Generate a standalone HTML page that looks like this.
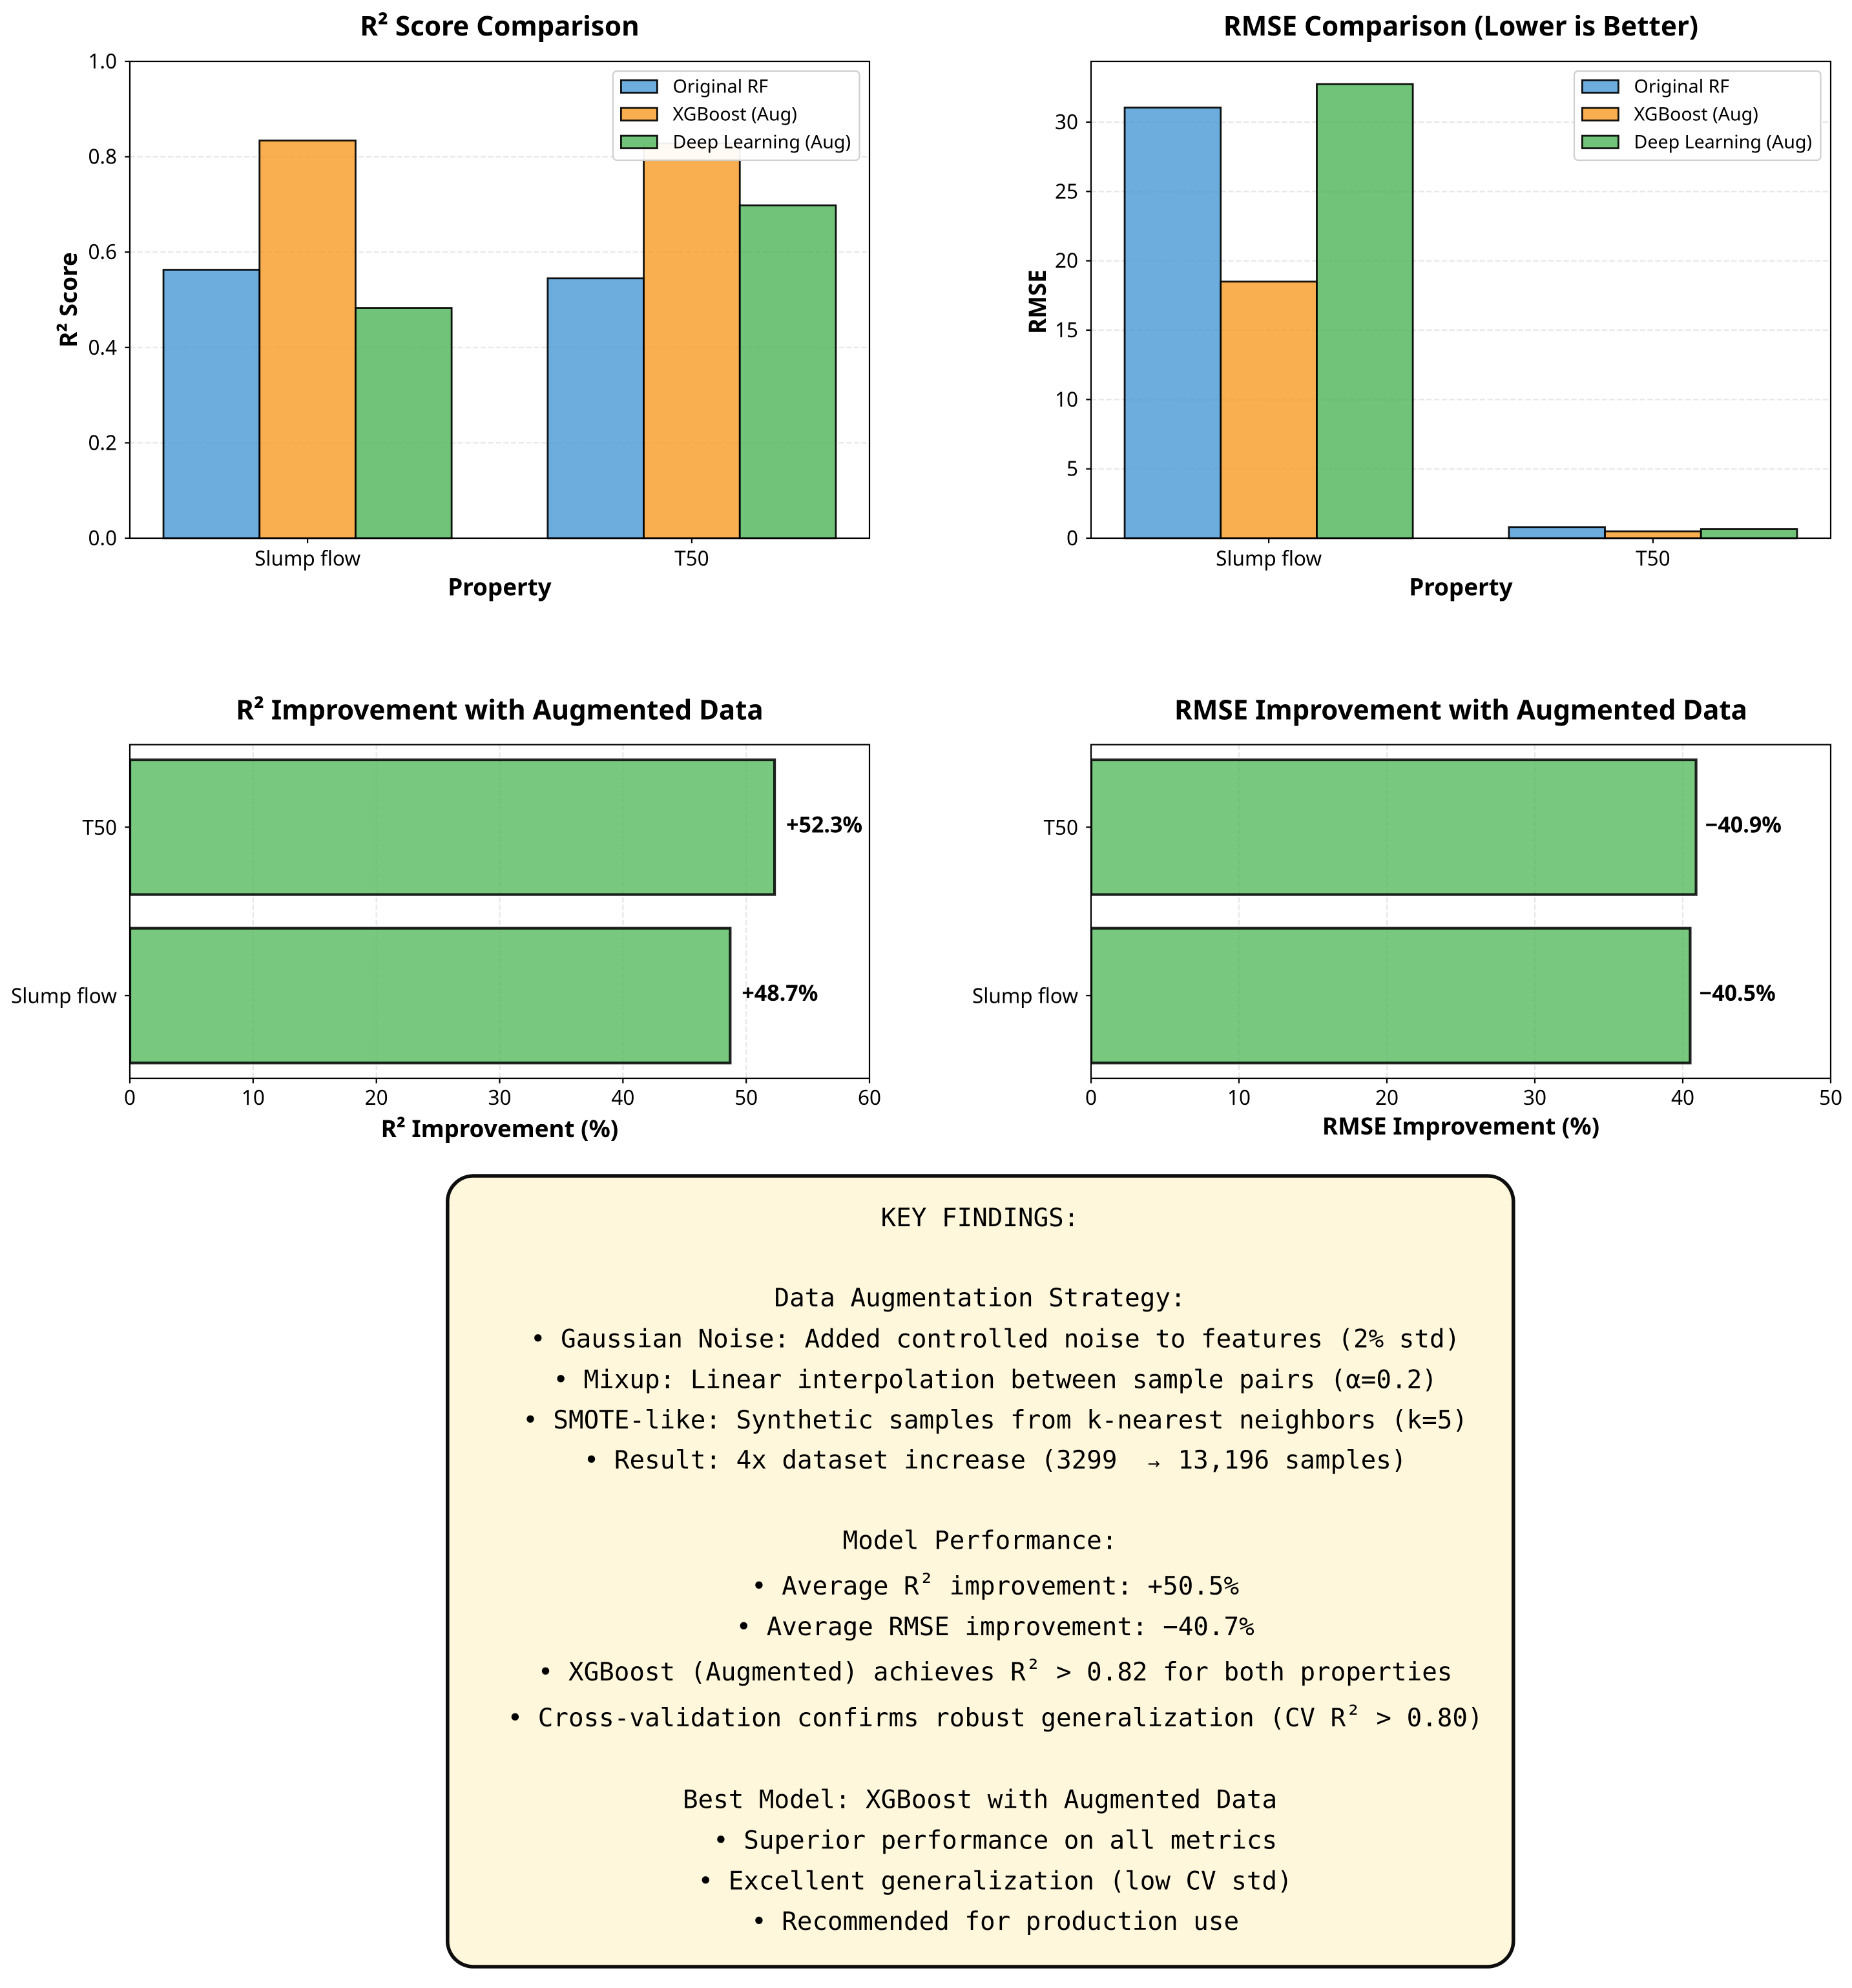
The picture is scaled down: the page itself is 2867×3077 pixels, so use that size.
<!DOCTYPE html>
<html lang="en">
<head>
<meta charset="utf-8">
<title>Model Comparison Dashboard</title>
<style>
html,body{margin:0;padding:0;background:#fff;width:2867px;height:3077px;overflow:hidden}
svg{display:block}
text{fill:#000}
.s{font-family:"Noto Sans","Noto Sans CJK JP","DejaVu Sans",sans-serif}
.title{font-size:42.1px;font-weight:700;text-anchor:middle}
.lab{font-size:36.8px;font-weight:700;text-anchor:middle}
.tick{font-size:31.5px}
.leg{font-size:28.6px}
.val{font-size:34px;font-weight:700}
.m{font-family:"DejaVu Sans Mono","Liberation Mono",monospace;font-size:39.2px;text-anchor:middle;white-space:pre}
</style>
</head>
<body>
<svg id="root" xmlns="http://www.w3.org/2000/svg" width="2867" height="3077" viewBox="0 0 2867 3077">
<rect x="0" y="0" width="2867" height="3077" fill="#fff"/>
<g id="charts"></g>
<g>
<rect x="692.8" y="1820" width="1650" height="1224" rx="40" ry="40" fill="#fff7dc" stroke="#0d0d0d" stroke-width="5.6"/>
<text class="m" x="1517" y="1898" xml:space="preserve">KEY FINDINGS:</text>
<text class="m" x="1517" y="2022" xml:space="preserve">Data Augmentation Strategy:</text>
<text class="m" x="1517" y="2085.5" xml:space="preserve">  • Gaussian Noise: Added controlled noise to features (2% std)</text>
<text class="m" x="1517" y="2148.5" xml:space="preserve">  • Mixup: Linear interpolation between sample pairs (α=0.2)</text>
<text class="m" x="1517" y="2211" xml:space="preserve">  • SMOTE-like: Synthetic samples from k-nearest neighbors (k=5)</text>
<text class="m" x="1517" y="2273" xml:space="preserve">  • Result: 4x dataset increase (3299  <tspan font-family="DejaVu Sans" font-size="23px">→</tspan><tspan dx="4"> 13,196 samples)</tspan></text>
<text class="m" x="1517" y="2397.5" xml:space="preserve">Model Performance:</text>
<text class="m" x="1517" y="2468" xml:space="preserve">  • Average R<tspan dy="-5">²</tspan><tspan dy="5"> improvement: +50.5%</tspan></text>
<text class="m" x="1517" y="2531" xml:space="preserve">  • Average RMSE improvement: −40.7%</text>
<text class="m" x="1517" y="2601" xml:space="preserve">  • XGBoost (Augmented) achieves R<tspan dy="-5">²</tspan><tspan dy="5"> &gt; 0.82 for both properties</tspan></text>
<text class="m" x="1517" y="2672" xml:space="preserve">  • Cross-validation confirms robust generalization (CV R<tspan dy="-5">²</tspan><tspan dy="5"> &gt; 0.80)</tspan></text>
<text class="m" x="1517" y="2798.5" xml:space="preserve">Best Model: XGBoost with Augmented Data</text>
<text class="m" x="1517" y="2861.5" xml:space="preserve">  • Superior performance on all metrics</text>
<text class="m" x="1517" y="2924.5" xml:space="preserve">  • Excellent generalization (low CV std)</text>
<text class="m" x="1517" y="2987" xml:space="preserve">  • Recommended for production use</text>
</g>
</svg>
<script>
var categories = ['Slump flow', 'T50'];
var seriesNames = ['Original RF', 'XGBoost (Aug)', 'Deep Learning (Aug)'];
var r2Original = [0.563, 0.545];
var r2Xgboost = [0.834, 0.828];
var r2DeepLearning = [0.483, 0.698];
var rmseOriginal = [31.05, 0.80];
var rmseXgboost = [18.5, 0.49];
var rmseDeepLearning = [32.74, 0.67];
var r2Improvement = [48.7, 52.3];
var rmseImprovement = [40.5, 40.9];
var r2ImprovementLabels = ['+48.7%', '+52.3%'];
var rmseImprovementLabels = ['\u221240.5%', '\u221240.9%'];
var r2Ticks = [0, 0.2, 0.4, 0.6, 0.8, 1.0];
var r2TickLabels = ['0.0', '0.2', '0.4', '0.6', '0.8', '1.0'];
var rmseTicks = [0, 5, 10, 15, 20, 25, 30];
var r2ImprovementTicks = [0, 10, 20, 30, 40, 50, 60];
var rmseImprovementTicks = [0, 10, 20, 30, 40, 50];

var NS = 'http://www.w3.org/2000/svg';
var chartsRoot = document.getElementById('charts');
var seriesFill = ['#4998d4', '#f79a23', '#4cb456'];
var clipCount = 0;

function make(parent, tag, attrs, name, text) {
  var e = document.createElementNS(NS, tag);
  for (var k in attrs) e.setAttribute(k, attrs[k]);
  
  
  if (text !== undefined) e.textContent = text;
  parent.appendChild(e);
  return e;
}
function setupPanel(box, name) {
  var g = make(chartsRoot, 'g', {}, name);
  clipCount++;
  var defs = make(g, 'defs', {}, name + '-defs');
  var cp = make(defs, 'clipPath', {id: 'clip' + clipCount}, name + '-clip');
  make(cp, 'rect', {x: box.l, y: box.t, width: box.r - box.l, height: box.b - box.t}, name + '-clip-rect');
  return {g: g, clip: 'url(#clip' + clipCount + ')'};
}
function spines(p, box, name) {
  make(p.g, 'rect', {x: box.l, y: box.t, width: box.r - box.l, height: box.b - box.t, fill: 'none', stroke: '#000', 'stroke-width': 2.2}, name + '-frame');
}
function gridLine(p, x1, y1, x2, y2, name) {
  make(p.g, 'line', {x1: x1, y1: y1, x2: x2, y2: y2, stroke: '#b0b0b0', 'stroke-opacity': 0.3, 'stroke-width': 2.2, 'stroke-dasharray': '8.2 3.6', 'clip-path': p.clip}, name);
}
function textEl(p, x, y, cls, anchor, name, str, extra) {
  var a = {x: x, y: y, 'class': 's ' + cls};
  if (anchor) a['text-anchor'] = anchor;
  if (extra) for (var k in extra) a[k] = extra[k];
  return make(p.g, 'text', a, name, str);
}
function columnChart(box, opts) {
  var p = setupPanel(box, opts.name);
  var xUnit = (box.r - box.l) / 1.925;
  function xPos(v) { return box.l + (v + 0.4625) * xUnit; }
  function yPos(v) { return box.b - (v / opts.yMax) * (box.b - box.t); }
  opts.ticks.forEach(function (t) { gridLine(p, box.l, yPos(t), box.r, yPos(t), opts.name + '-grid-' + t); });
  var barW = 0.25;
  opts.series.forEach(function (vals, s) {
    vals.forEach(function (v, c) {
      var x0 = xPos(c + (s - 1.5) * barW);
      make(p.g, 'rect', {x: x0, y: yPos(v), width: barW * xUnit, height: box.b - yPos(v), fill: seriesFill[s], 'fill-opacity': 0.8, stroke: '#000', 'stroke-width': 2.8, 'stroke-opacity': 0.92}, opts.name + '-bar-' + seriesNames[s].toLowerCase().replace(/[^a-z]+/g, '-') + c);
    });
  });
  spines(p, box, opts.name);
  opts.ticks.forEach(function (t, i) {
    make(p.g, 'line', {x1: box.l - 7.7, x2: box.l, y1: yPos(t), y2: yPos(t), stroke: '#000', 'stroke-width': 2.2}, opts.name + '-ytick-' + t);
    textEl(p, box.l - 20, yPos(t) + 11, 'tick', 'end', opts.name + '-ytick-label-' + t, opts.tickLabels[i]);
  });
  categories.forEach(function (cat, c) {
    make(p.g, 'line', {x1: xPos(c), x2: xPos(c), y1: box.b, y2: box.b + 7.7, stroke: '#000', 'stroke-width': 2.2}, opts.name + '-xtick-' + c);
    textEl(p, xPos(c), 875.5, 'tick', 'middle', opts.name + '-xtick-label-' + c, cat);
  });
  var cx = (box.l + box.r) / 2;
  textEl(p, cx, 55, 'title', null, opts.name + '-title', opts.title);
  textEl(p, cx, 921.5, 'lab', null, opts.name + '-x-axis-title', 'Property');
  var yl = textEl(p, 0, 0, 'lab', null, opts.name + '-y-axis-title', opts.yLabel);
  yl.setAttribute('transform', 'translate(' + opts.yLabelX + ',' + opts.yLabelY + ') rotate(-90)');
  drawLegend(p, box, opts.name);
}
function drawLegend(p, box, name) {
  var lx = box.r - 397;
  var g = make(p.g, 'g', {}, name + '-legend');
  make(g, 'rect', {x: lx, y: 110, width: 381.5, height: 138, rx: 6, ry: 6, fill: '#fff', 'fill-opacity': 0.94, stroke: '#cccccc', 'stroke-opacity': 0.95, 'stroke-width': 2.2}, name + '-legend-frame');
  seriesNames.forEach(function (label, i) {
    var ty = 124.1 + i * 43;
    make(g, 'rect', {x: lx + 12.4, y: ty, width: 56, height: 19.4, fill: seriesFill[i], 'fill-opacity': 0.8, stroke: '#000', 'stroke-width': 2.8, 'stroke-opacity': 0.92}, name + '-legend-swatch-' + i);
    make(g, 'text', {x: lx + 92.5, y: ty + 19.2, 'class': 's leg'}, name + '-legend-label-' + i, label);
  });
}
function barChart(box, opts) {
  var p = setupPanel(box, opts.name);
  function xPos(v) { return box.l + (v / opts.xMax) * (box.r - box.l); }
  var rowH = 260.7;
  function yPos(i) { return 1541 - i * rowH; }
  opts.ticks.forEach(function (t) { gridLine(p, xPos(t), box.t, xPos(t), box.b, opts.name + '-grid-' + t); });
  opts.values.forEach(function (v, i) {
    var h = 0.8 * rowH;
    make(p.g, 'rect', {x: box.l, y: yPos(i) - h / 2, width: xPos(v) - box.l, height: h, fill: '#4cb656', 'fill-opacity': 0.75, stroke: '#000', 'stroke-width': 4.2, 'stroke-opacity': 0.85, 'clip-path': p.clip}, opts.name + '-bar-' + i);
    textEl(p, xPos(v) + opts.labelGap, yPos(i) + 8, 'val', 'start', opts.name + '-value-label-' + i, opts.labels[i]);
    make(p.g, 'line', {x1: box.l - 7.7, x2: box.l, y1: yPos(i), y2: yPos(i), stroke: '#000', 'stroke-width': 2.2}, opts.name + '-ytick-' + i);
    textEl(p, box.l - 20, yPos(i) + 11.5, 'tick', 'end', opts.name + '-ytick-label-' + i, categories[i]);
  });
  spines(p, box, opts.name);
  opts.ticks.forEach(function (t) {
    make(p.g, 'line', {x1: xPos(t), x2: xPos(t), y1: box.b, y2: box.b + 7.7, stroke: '#000', 'stroke-width': 2.2}, opts.name + '-xtick-' + t);
    textEl(p, xPos(t), 1710, 'tick', 'middle', opts.name + '-xtick-label-' + t, String(t));
  });
  var cx = (box.l + box.r) / 2;
  textEl(p, cx, 1113.5, 'title', null, opts.name + '-title', opts.title);
  textEl(p, cx, opts.xLabelY, 'lab', null, opts.name + '-x-axis-title', opts.xLabel);
}

columnChart({l: 201, r: 1346, t: 95, b: 833}, {
  name: 'r2-comparison-chart', title: 'R\u00b2 Score Comparison', yLabel: 'R\u00b2 Score', yLabelX: 119, yLabelY: 464,
  series: [r2Original, r2Xgboost, r2DeepLearning], yMax: 1, ticks: r2Ticks, tickLabels: r2TickLabels
});
columnChart({l: 1689, r: 2834, t: 95, b: 833}, {
  name: 'rmse-comparison-chart', title: 'RMSE Comparison (Lower is Better)', yLabel: 'RMSE', yLabelX: 1619, yLabelY: 467,
  series: [rmseOriginal, rmseXgboost, rmseDeepLearning], yMax: 34.38, ticks: rmseTicks, tickLabels: rmseTicks.map(String)
});
barChart({l: 201, r: 1346, t: 1152.5, b: 1669}, {
  name: 'r2-improvement-chart', title: 'R\u00b2 Improvement with Augmented Data', xLabel: 'R\u00b2 Improvement (%)', xLabelY: 1760,
  values: r2Improvement, labels: r2ImprovementLabels, xMax: 60, ticks: r2ImprovementTicks, labelGap: 18
});
barChart({l: 1689, r: 2834, t: 1152.5, b: 1669}, {
  name: 'rmse-improvement-chart', title: 'RMSE Improvement with Augmented Data', xLabel: 'RMSE Improvement (%)', xLabelY: 1756,
  values: rmseImprovement, labels: rmseImprovementLabels, xMax: 50, ticks: rmseImprovementTicks, labelGap: 14
});
</script>
</body>
</html>
